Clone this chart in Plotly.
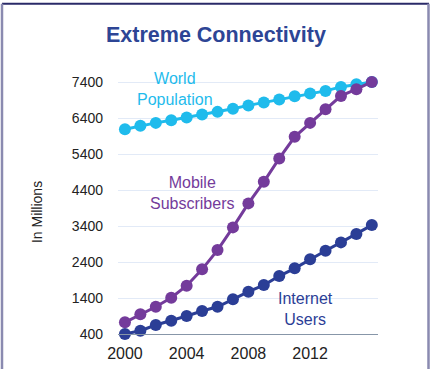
import plotly.graph_objects as go

years = list(range(2000, 2017))
world_population = [6094, 6186, 6269, 6344, 6419, 6503, 6575, 6660, 6755, 6836, 6919, 7011, 7086, 7158, 7269, 7344, 7408]
mobile_subscribers = [725, 947, 1158, 1408, 1742, 2197, 2733, 3364, 4031, 4631, 5281, 5881, 6269, 6650, 7019, 7206, 7408]
internet_users = [400, 492, 650, 769, 900, 1039, 1158, 1364, 1575, 1761, 2011, 2225, 2475, 2714, 2947, 3178, 3428]
y_ticks = [400, 1400, 2400, 3400, 4400, 5400, 6400, 7400]
x_ticks = [2000, 2004, 2008, 2012]

c_world = "#1fbbec"
c_mobile = "#743b9b"
c_internet = "#2b3e96"

fig = go.Figure()
for name, vals, col in [("Internet Users", internet_users, c_internet),
                        ("World Population", world_population, c_world),
                        ("Mobile Subscribers", mobile_subscribers, c_mobile)]:
    fig.add_trace(go.Scatter(x=years, y=vals, mode="lines+markers", name=name,
                             line=dict(color=col, width=3),
                             marker=dict(color=col, size=12),
                             cliponaxis=False, showlegend=False))

L, R, T, B = 118, 53, 74.8, 35
W, H = 431, 369
pw, ph = W - L - R, H - T - B

def px(x):
    return (x - L) / pw

def py(y):
    return (H - B - y) / ph

fig.update_layout(
    width=W, height=H,
    margin=dict(l=L, r=R, t=T, b=B, autoexpand=False),
    paper_bgcolor="white", plot_bgcolor="white",
    font=dict(family="Liberation Sans, Arial, sans-serif", color="#222222"),
    xaxis=dict(range=[1999.55, 2016.4], tickvals=x_ticks, ticktext=[str(v) for v in x_ticks],
               showgrid=False, zeroline=False, showline=True, linecolor="#8796a8", linewidth=1,
               ticks="", tickfont=dict(size=16, color="#222222"), ticklabelstandoff=5,
               automargin=False),
    yaxis=dict(range=[400, 7600], tickvals=y_ticks, ticktext=[str(v) for v in y_ticks],
               showgrid=True, gridcolor="#e2eaf7", gridwidth=1, zeroline=False, showline=False,
               ticks="", tickfont=dict(size=14, color="#222222"), ticklabelstandoff=14,
               automargin=False),
    annotations=[
        dict(text="<b>Extreme Connectivity</b>", x=px(216), y=py(35), xref="paper", yref="paper",
             showarrow=False, font=dict(size=21.5, color="#2d4595"), xanchor="center", yanchor="middle"),
        dict(text="In Millions", x=px(37), y=py(212), xref="paper", yref="paper", textangle=-90,
             showarrow=False, font=dict(size=14, color="#222222"), xanchor="center", yanchor="middle"),
        dict(text="World<br>Population", x=px(175), y=py(89), xref="paper", yref="paper",
             showarrow=False, font=dict(size=16, color=c_world), xanchor="center", yanchor="middle"),
        dict(text="Mobile<br>Subscribers", x=px(192), y=py(193), xref="paper", yref="paper",
             showarrow=False, font=dict(size=16, color=c_mobile), xanchor="center", yanchor="middle"),
        dict(text="Internet<br>Users", x=px(305), y=py(309), xref="paper", yref="paper",
             showarrow=False, font=dict(size=16, color=c_internet), xanchor="center", yanchor="middle"),
    ],
    shapes=[
        dict(type="line", xref="paper", yref="paper", x0=px(2), x1=px(429), y0=py(3.5), y1=py(3.5),
             line=dict(color="#2a2a68", width=2)),
        dict(type="line", xref="paper", yref="paper", x0=px(2), x1=px(2), y0=py(3.5), y1=py(372),
             line=dict(color="#8a8ab0", width=2.5)),
        dict(type="line", xref="paper", yref="paper", x0=px(428.5), x1=px(428.5), y0=py(3.5), y1=py(372),
             line=dict(color="#8a8ab0", width=2.5)),
    ],
)

fig.write_html("out.html")
